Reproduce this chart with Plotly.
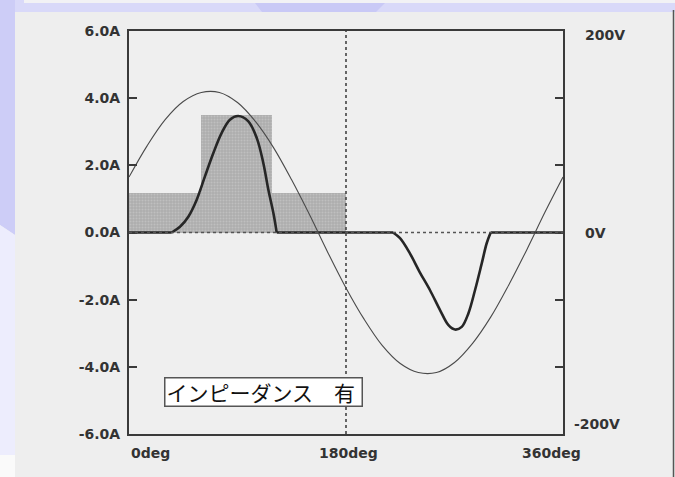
import plotly.graph_objects as go

# ---------------------------------------------------------------- data
# supply voltage (right axis, V), sampled every 15 deg
volt_deg = [0, 15, 30, 45, 60, 75, 90, 105, 120, 135, 150, 165, 180,
            195, 210, 225, 240, 255, 270, 285, 300, 315, 330, 345, 360]
volt_v = [55, 86, 112, 130, 139, 139, 129, 110, 84, 52, 17, -20, -55,
          -86, -112, -130, -139, -139, -129, -110, -84, -52, -17, 20, 55]

# line current (left axis, A)
curr_deg = [0, 35.4, 42.3, 49.2, 56.1, 63, 69.9, 76.8, 83.7, 90.6, 99, 106,
            111.4, 115.6, 119.8, 122.5,
            219, 224.8, 233, 241, 249.7, 258, 265, 270.4, 276, 281.5, 287,
            292.6, 296.7, 300, 360]
curr_a = [0, 0, 0.17, 0.47, 0.97, 1.67, 2.36, 2.96, 3.36, 3.47, 3.31, 2.81,
          2.07, 1.27, 0.57, 0,
          0, -0.17, -0.62, -1.17, -1.72, -2.31, -2.76, -2.89, -2.81, -2.41, -1.72,
          -0.92, -0.32, 0, 0]

# shaded blocks: start / end angle (deg) and level (A)
block_start = [0, 60]
block_end = [180, 119]
block_level = [1.18, 3.5]

# axis labels
amp_ticks = [-6, -4, -2, 0, 2, 4, 6]
amp_text = [f"{v:.1f}A" for v in amp_ticks]
volt_label_vals = [200, 0, -200]
volt_label_text = ["200V", "0V", "-200V"]
deg_label_vals = [0, 180, 360]
deg_label_text = ["0deg", "180deg", "360deg"]
note_text = "インピーダンス　有"

# ---------------------------------------------------------------- styling
INK = "#3a3a3a"
PANEL = "#eeeeee"
LABEL_FONT = dict(family="DejaVu Sans", size=14, color="#333333", weight="bold")

# plot area in pixels (for placing decorations outside it)
L, R, T, B = 129, 563, 31, 434


def fx(p):
    return (p - L) / (R - L)


def fy(p):
    return (B - p) / (B - T)


def current_runs(xs, ys):
    """Split the current into flat (zero) runs and conduction pulses."""
    runs, start = [], 0
    for i in range(1, len(xs)):
        flat = ys[i] == 0 and ys[i - 1] == 0
        prev_flat = i > 1 and ys[i - 1] == 0 and ys[i - 2] == 0
        if i > 1 and flat != prev_flat:
            runs.append((start, i - 1, prev_flat))
            start = i - 1
    runs.append((start, len(xs) - 1, ys[-1] == 0 and ys[-2] == 0))
    return runs


fig = go.Figure()

fig.add_trace(go.Bar(
    x=[(a + b) / 2 for a, b in zip(block_start, block_end)],
    y=block_level,
    width=[b - a for a, b in zip(block_start, block_end)],
    marker=dict(
        color="#afafaf",
        line=dict(width=0),
        pattern=dict(shape=".", bgcolor="#adadad", fgcolor="#d2d2d2",
                     size=3, solidity=0.35),
    ),
    yaxis="y",
    hoverinfo="skip",
))

for i0, i1, flat in current_runs(curr_deg, curr_a):
    fig.add_trace(go.Scatter(
        x=curr_deg[i0:i1 + 1], y=curr_a[i0:i1 + 1], mode="lines",
        line=dict(color="#262626", width=2.6,
                  shape="linear" if flat else "spline", smoothing=1.0),
        yaxis="y",
    ))

fig.add_trace(go.Scatter(
    x=volt_deg, y=volt_v, mode="lines",
    line=dict(color="#4a4a4a", width=1.1, shape="spline", smoothing=1.0),
    yaxis="y2",
))

shapes = [
    # page decoration around the chart panel
    dict(type="rect", xref="paper", yref="paper", x0=fx(0), x1=fx(675),
         y0=fy(12), y1=fy(0), fillcolor="#d9d9f9", line_width=0, layer="below"),
    dict(type="rect", xref="paper", yref="paper", x0=fx(24), x1=fx(675),
         y0=fy(3), y1=fy(0), fillcolor="#f2f2f5", line_width=0, layer="below"),
    dict(type="path", xref="paper", yref="paper",
         path=(f"M {fx(255)},{fy(3)} L {fx(385)},{fy(3)} "
               f"L {fx(376)},{fy(12)} L {fx(262)},{fy(12)} Z"),
         fillcolor="#c9c9f6", line_width=0, layer="below"),
    dict(type="path", xref="paper", yref="paper",
         path=(f"M {fx(0)},{fy(0)} L {fx(15)},{fy(0)} L {fx(15)},{fy(235)} "
               f"L {fx(0)},{fy(225)} Z"),
         fillcolor="#cdcdf7", line_width=0, layer="below"),
    dict(type="path", xref="paper", yref="paper",
         path=(f"M {fx(0)},{fy(225)} L {fx(15)},{fy(235)} L {fx(15)},{fy(455)} "
               f"L {fx(0)},{fy(455)} Z"),
         fillcolor="#ededfd", line_width=0, layer="below"),
    dict(type="rect", xref="paper", yref="paper", x0=fx(0), x1=fx(15),
         y0=fy(477), y1=fy(455), fillcolor="#fafafa", line_width=0, layer="below"),
    dict(type="line", xref="paper", yref="paper", x0=fx(673.5), x1=fx(673.5),
         y0=fy(477), y1=fy(10), line=dict(color="#555555", width=1.5)),
    # 0 A reference and 180 deg marker
    dict(type="line", xref="x", yref="y", x0=0, x1=360, y0=0, y1=0,
         line=dict(color="#555555", width=1.3, dash="dot")),
    dict(type="line", xref="x", yref="paper", x0=180, x1=180, y0=0, y1=1,
         line=dict(color="#444444", width=1.6, dash="dot")),
]

annotations = []
for v, t, dy in zip(volt_label_vals, volt_label_text, [-4, 0, 10]):
    annotations.append(dict(
        x=1, xref="paper", y=v, yref="y2", text=t, showarrow=False,
        xanchor="left", yanchor="middle", xshift=20 if v >= 0 else 9,
        yshift=dy, font=LABEL_FONT,
    ))
for v, t, anchor, dx in zip(deg_label_vals, deg_label_text,
                            ["left", "center", "center"], [0, 2, -12]):
    annotations.append(dict(
        x=v, xref="x", y=0, yref="paper", text=t, showarrow=False,
        xanchor=anchor, yanchor="middle", xshift=dx, yshift=-19,
        font=LABEL_FONT,
    ))
annotations.append(dict(
    x=fx(263.5), xref="paper", y=fy(392), yref="paper", text=note_text,
    showarrow=False, xanchor="center", yanchor="middle",
    width=194, height=25, align="left", borderpad=1,
    bordercolor="#555555", borderwidth=1.5, bgcolor="#ffffff",
    font=dict(family="Noto Sans CJK JP", size=21, color="#111111"),
))

fig.update_layout(
    width=675, height=477,
    margin=dict(l=L, r=675 - R, t=T, b=477 - B),
    paper_bgcolor=PANEL, plot_bgcolor="#efefef",
    showlegend=False, barmode="overlay", bargap=0,
    shapes=shapes, annotations=annotations,
    xaxis=dict(range=[0, 360], showgrid=False, zeroline=False,
               showline=True, mirror=True, linecolor=INK, linewidth=2,
               ticks="", showticklabels=False),
    yaxis=dict(range=[-6, 6], tickvals=amp_ticks, ticktext=amp_text,
               ticks="inside", ticklen=8, tickwidth=2, tickcolor=INK,
               showline=True, linecolor=INK, linewidth=2,
               showgrid=False, zeroline=False, tickfont=LABEL_FONT,
               ticklabelstandoff=4),
    yaxis2=dict(range=[-200, 200], overlaying="y", side="right",
                tickvals=[v * 200 / 6 for v in amp_ticks],
                ticktext=[""] * len(amp_ticks),
                ticks="inside", ticklen=8, tickwidth=2, tickcolor=INK,
                showline=True, linecolor=INK, linewidth=2,
                showgrid=False, zeroline=False),
)

fig.write_html("out.html")
